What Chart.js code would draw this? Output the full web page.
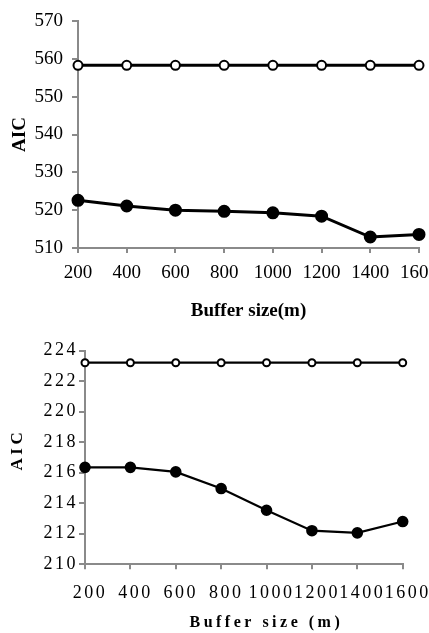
<!DOCTYPE html>
<html>
<head>
<meta charset="utf-8">
<script src="https://cdn.jsdelivr.net/npm/chart.js@4.4.1/dist/chart.umd.min.js"></script>
<style>
  html, body { margin: 0; padding: 0; background: #fff; width: 429px; height: 633px; overflow: hidden; }
  #wrap { position: relative; width: 429px; height: 633px; overflow: hidden; }
  canvas { position: absolute; left: 0; }
  #c1 { top: 0; }
  #c2 { top: 320px; }
</style>
</head>
<body>
<div id="wrap">
  <canvas id="c1" width="470" height="330"></canvas>
  <canvas id="c2" width="470" height="320"></canvas>
</div>
<script>
// ---- data ----
const categories = ['200', '400', '600', '800', '1000', '1200', '1400', '1600'];
const topOpen   = [558.3, 558.3, 558.3, 558.3, 558.3, 558.3, 558.3, 558.3];
const topFilled = [522.6, 521.1, 520.0, 519.7, 519.3, 518.4, 512.9, 513.6];
const botOpen   = [223.2, 223.2, 223.2, 223.2, 223.2, 223.2, 223.2, 223.2];
const botFilled = [216.35, 216.35, 216.05, 214.96, 213.54, 212.2, 212.06, 212.8];
const topYTicks = { min: 510, max: 570, step: 10 };
const botYTicks = { min: 210, max: 224, step: 2 };
const topXTitle = 'Buffer size(m)';
const botXTitle = 'Buffer size (m)';
const yTitle = 'AIC';

const AXIS = '#8a8a8a';
const FONT = "'Liberation Serif', 'Times New Roman', serif";

function spacingPlugin(px) {
  return {
    id: 'spacing',
    beforeLayout(chart) { chart.ctx.letterSpacing = px + 'px'; },
    beforeDraw(chart) { chart.ctx.letterSpacing = px + 'px'; }
  };
}

function makeChart(id, cfg) {
  const ds = (data, filled) => ({
    data,
    borderColor: '#000',
    borderWidth: cfg.lineW,
    pointRadius: filled ? cfg.fillR : cfg.openR,
    pointBorderWidth: 2,
    pointBorderColor: '#000',
    pointBackgroundColor: filled ? '#000' : '#fff',
    tension: 0,
    clip: false,
    fill: false
  });
  const patchTitle = (s) => {
    if (!cfg.titleSpacing || s._patched) return;
    s._patched = true;
    const orig = s.drawTitle;
    s.drawTitle = function () {
      const ctx = this.ctx;
      const prev = ctx.letterSpacing;
      ctx.letterSpacing = cfg.titleSpacing + 'px';
      orig.call(this);
      ctx.letterSpacing = prev;
    };
  };
  return new Chart(document.getElementById(id), {
    type: 'line',
    data: {
      labels: categories,
      datasets: [ds(cfg.open, false), ds(cfg.filled, true)]
    },
    options: {
      responsive: false,
      animation: false,
      devicePixelRatio: 1,
      layout: { padding: { top: cfg.padTop, right: cfg.padRight, bottom: 0, left: 0 } },
      plugins: { legend: { display: false }, tooltip: { enabled: false } },
      scales: {
        x: {
          offset: false,
          grid: { drawOnChartArea: false, color: AXIS, lineWidth: 2, tickLength: 5 },
          border: { color: AXIS, width: 2 },
          ticks: { color: '#000', font: { family: FONT, size: cfg.xTickSize }, padding: cfg.xTickPad,
                   maxRotation: 0, autoSkip: false, labelOffset: cfg.xLabelOffset },
          title: { display: true, text: cfg.xTitle, color: '#000',
                   font: { family: FONT, size: cfg.xTitleSize, weight: 'bold' },
                   padding: { top: 0, bottom: cfg.xTitlePad } },
          afterFit(s) { s.height = cfg.xHeight; patchTitle(s); }
        },
        y: {
          min: cfg.yt.min, max: cfg.yt.max,
          grid: { drawOnChartArea: false, color: AXIS, lineWidth: 2, tickLength: 6 },
          border: { color: AXIS, width: 2 },
          ticks: { stepSize: cfg.yt.step, color: '#000', font: { family: FONT, size: cfg.yTickSize },
                   padding: cfg.yTickPad },
          title: { display: true, text: cfg.yTitle, color: '#000',
                   font: { family: FONT, size: cfg.yTitleSize, weight: 'bold' },
                   padding: { top: cfg.yTitlePad, bottom: 0 } },
          afterFit(s) { s.width = cfg.yWidth; patchTitle(s); }
        }
      }
    },
    plugins: cfg.spacing ? [spacingPlugin(cfg.spacing)] : []
  });
}

makeChart('c1', {
  open: topOpen, filled: topFilled, yt: topYTicks,
  lineW: 3, openR: 4.5, fillR: 5.5,
  padTop: 21, padRight: 51, xHeight: 82, yWidth: 78,
  xTickSize: 19, xTickPad: 8.5, xLabelOffset: 0,
  xTitle: topXTitle, xTitleSize: 19, xTitlePad: 7.6,
  yTickSize: 19, yTickPad: 9,
  yTitle: yTitle, yTitleSize: 19, yTitlePad: 8.6,
  spacing: 0, titleSpacing: 0
});

makeChart('c2', {
  open: botOpen, filled: botFilled, yt: botYTicks,
  lineW: 2.2, openR: 3.5, fillR: 4.8,
  padTop: 30.5, padRight: 67.3, xHeight: 75.7, yWidth: 85,
  xTickSize: 18, xTickPad: 13.5, xLabelOffset: 5,
  xTitle: '\u00a0\u00a0\u00a0\u00a0\u00a0\u00a0' + botXTitle, xTitleSize: 16, xTitlePad: 7.1,
  yTickSize: 18, yTickPad: 1,
  yTitle: '\u00a0\u00a0' + yTitle, yTitleSize: 17, yTitlePad: 7.8,
  spacing: 2.5, titleSpacing: 3.5
});
</script>
</body>
</html>
